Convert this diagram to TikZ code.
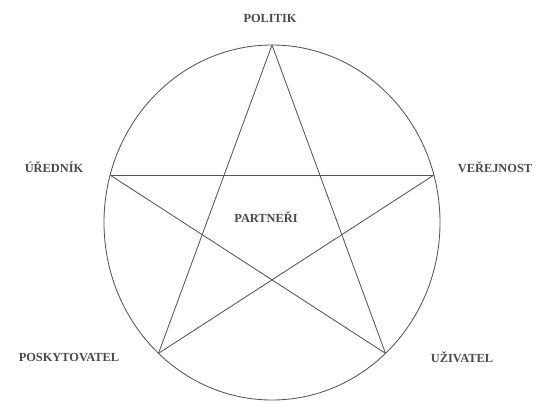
\documentclass[tikz,border=0pt]{standalone}
\usepackage{fontspec}
\setmainfont{Liberation Serif}
\usepackage{tikz}
\usetikzlibrary{calc}
\definecolor{inkgray}{HTML}{4A4A4A}
\definecolor{linegray}{HTML}{555555}

\begin{document}
\begin{tikzpicture}[
    x=0.025cm, y=0.025cm,
    role/.style={text=inkgray, font=\fontsize{8.8}{10}\selectfont\bfseries, inner sep=0pt},
    edge/.style={draw=linegray, line width=0.6pt}
]
\useasboundingbox (0,0) rectangle (536,401);

\coordinate (c) at (272,178.5);
\coordinate (top)  at ($(c)+(90:168 and 177.5)$);
\coordinate (left) at ($(c)+(164.5:168 and 177.5)$);
\coordinate (right) at ($(c)+(15.5:168 and 177.5)$);
\coordinate (bleft) at ($(c)+(227.5:168 and 177.5)$);
\coordinate (bright) at ($(c)+(312.5:168 and 177.5)$);

\draw[edge] (c) ellipse [x radius=168, y radius=177.5];

\draw[edge] (top) -- (bleft);
\draw[edge] (bleft) -- (right);
\draw[edge] (right) -- (left);
\draw[edge] (left) -- (bright);
\draw[edge] (bright) -- (top);

\node[role] (politik) at (270,383) {POLITIK};
\node[role] (urednik) at (54,234) {ÚŘEDNÍK};
\node[role] (verejnost) at (495,234) {VEŘEJNOST};
\node[role] (poskytovatel) at (69,44) {POSKYTOVATEL};
\node[role] (uzivatel) at (462,44) {UŽIVATEL};
\node[role] (partneri) at (266,184) {PARTNEŘI};

\end{tikzpicture}
\end{document}
